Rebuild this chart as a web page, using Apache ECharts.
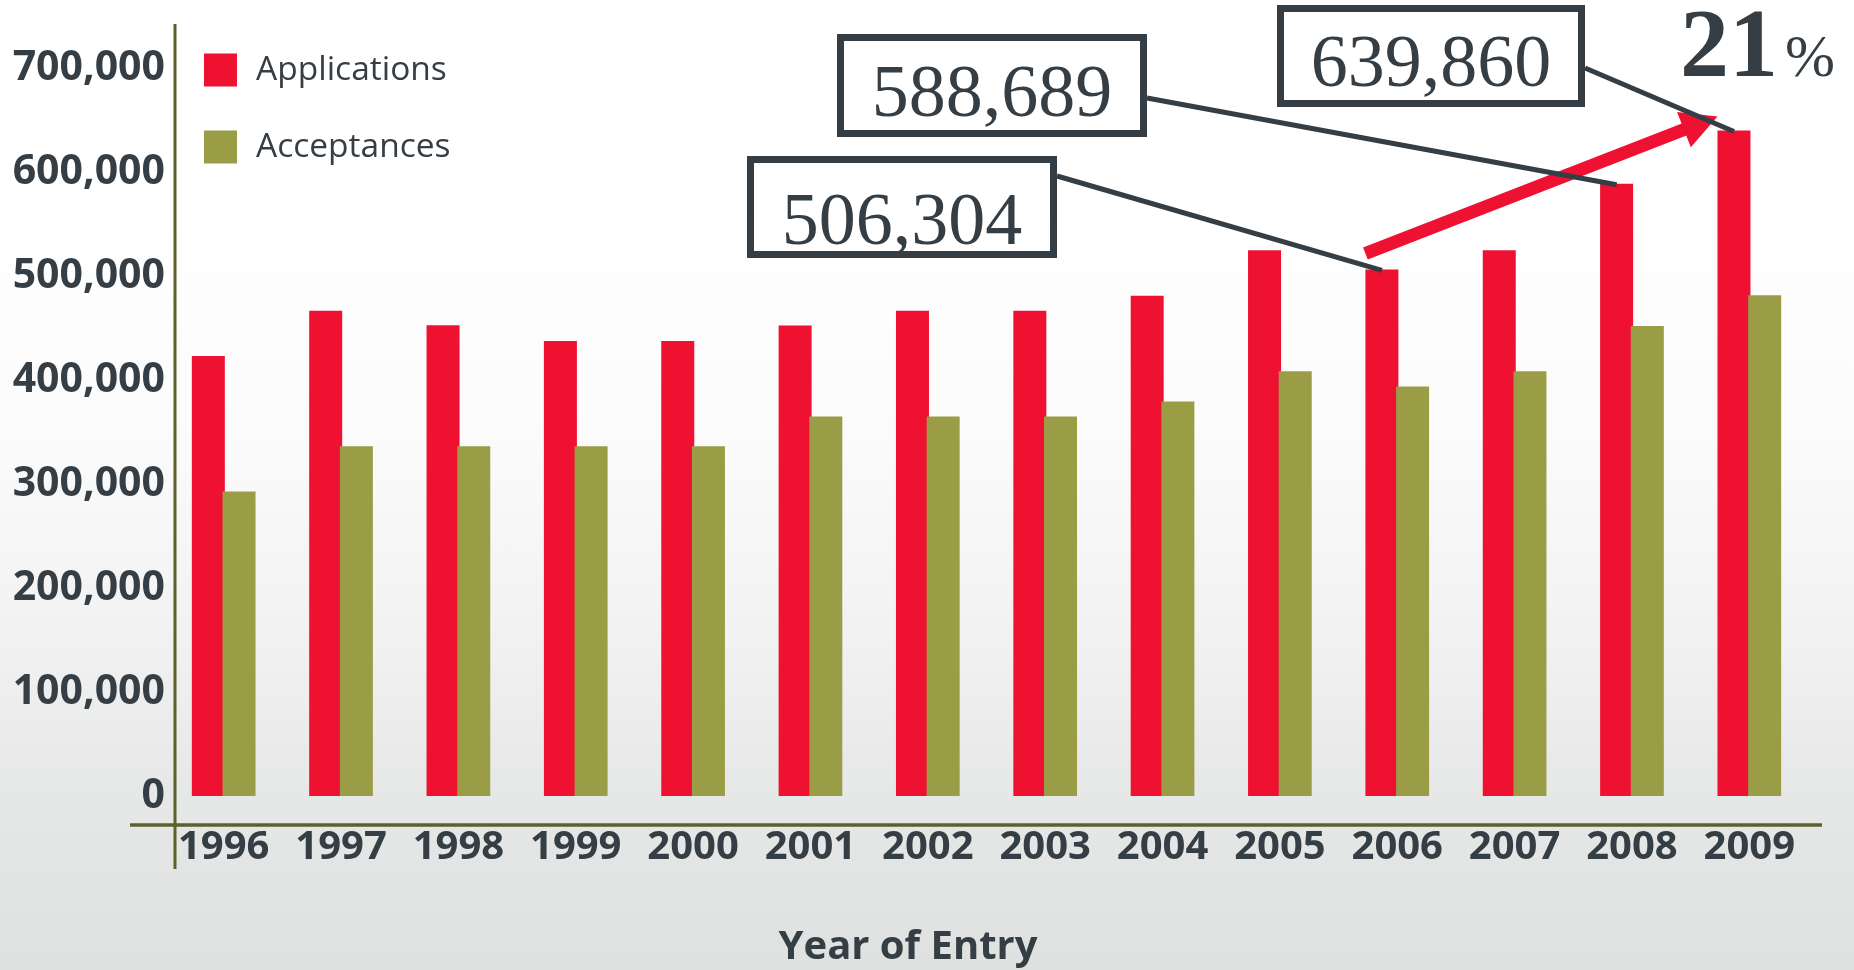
<!DOCTYPE html>
<html>
<head>
<meta charset="utf-8">
<script src="https://cdn.jsdelivr.net/npm/echarts@6/dist/echarts.min.js"></script>
<style>
html,body{margin:0;padding:0;}
#c{width:1854px;height:970px;background:linear-gradient(to bottom,#ffffff 0%,#ffffff 22%,#fbfbfb 45%,#f1f2f1 65%,#e6e8e7 82%,#dfe1e0 100%);}
</style>
</head>
<body>
<div id="c"></div>
<script>
// ---- data ----
const years = ['1996','1997','1998','1999','2000','2001','2002','2003','2004','2005','2006','2007','2008','2009'];
const applications = [423000, 466700, 452700, 437600, 437600, 452300, 466700, 466700, 481100, 524700, 506304, 524700, 588689, 639860];
const acceptances  = [292700, 336400, 336400, 336400, 336400, 365000, 365000, 365000, 379400, 408500, 393800, 408500, 452000, 481400];
const yTicks = [0, 100000, 200000, 300000, 400000, 500000, 600000, 700000];
const seriesNames = ['Applications', 'Acceptances'];
const calloutYears = ['2006', '2008', '2009'];
const growthValue = '21';
const growthUnit = '%';
const xAxisTitle = 'Year of Entry';

// ---- styling ----
const RED = '#ef1131';
const OLIVE = '#9a9d46';
const INK = '#343e44';
const AXIS = '#5b6128';
const BAR_W = 33;
const BAR_GAP = -0.07;

const chart = echarts.init(document.getElementById('c'), null, {renderer: 'canvas'});
const fmt = v => Number(v).toLocaleString('en-US');

chart.setOption({
  animation: false,
  backgroundColor: 'transparent',
  grid: {left: 165, right: 46, top: 68, bottom: 174, containLabel: false},
  legend: {
    data: seriesNames,
    orient: 'vertical',
    left: 199, top: 48,
    icon: 'rect',
    itemWidth: 33, itemHeight: 33, itemGap: 43,
    selectedMode: false,
    textStyle: {fontFamily: 'Open Sans', fontSize: 33.5, color: INK, padding: [0, 0, 0, 14]}
  },
  xAxis: {
    type: 'category',
    data: years,
    axisLine: {show: false},
    axisTick: {show: false},
    axisLabel: {interval: 0, margin: 32, fontFamily: 'Open Sans', fontWeight: 'bold', fontSize: 40, color: INK}
  },
  yAxis: {
    type: 'value',
    min: yTicks[0],
    max: yTicks[yTicks.length - 1],
    interval: yTicks[1] - yTicks[0],
    splitLine: {show: false},
    axisLine: {show: false},
    axisTick: {show: false},
    axisLabel: {margin: 0, formatter: v => fmt(v), fontFamily: 'Open Sans', fontWeight: 'bold', fontSize: 41, color: INK}
  },
  series: [
    {name: seriesNames[0], type: 'bar', data: applications, barWidth: BAR_W, barGap: (BAR_GAP * 100) + '%', itemStyle: {color: RED}},
    {name: seriesNames[1], type: 'bar', data: acceptances, barWidth: BAR_W, itemStyle: {color: OLIVE}}
  ]
});

function barRect(si, i) {
  try {
    const d = chart.getModel().getSeriesByIndex(si).getData();
    const l = d.getItemLayout(i);
    if (l && isFinite(l.x)) {
      const left = Math.min(l.x, l.x + l.width);
      const top = Math.min(l.y, l.y + l.height);
      return {left: left, top: top, width: Math.abs(l.width)};
    }
  } catch (e) {}
  const vals = si === 0 ? applications : acceptances;
  const p = chart.convertToPixel({gridIndex: 0}, [i, vals[i]]);
  const off = (BAR_W + BAR_W * BAR_GAP) / 2;
  const cx = si === 0 ? p[0] - off : p[0] + off;
  return {left: cx - BAR_W / 2, top: p[1], width: BAR_W};
}

const g = [];
// decorative axis lines
g.push({type: 'line', shape: {x1: 175, y1: 24, x2: 175, y2: 869}, style: {stroke: AXIS, lineWidth: 3}, z: 10});
g.push({type: 'line', shape: {x1: 130, y1: 825, x2: 1822, y2: 825}, style: {stroke: AXIS, lineWidth: 3.5}, z: 10});

// growth arrow from 2006 to 2009
const iA = years.indexOf(calloutYears[0]);
const iB = years.indexOf(calloutYears[2]);
const rA = barRect(0, iA), rB = barRect(0, iB);
const sx = rA.left, sy = rA.top - 16;
const tx = rB.left, ty = rB.top - 14;
const L = Math.hypot(tx - sx, ty - sy);
const ux = (tx - sx) / L, uy = (ty - sy) / L;
const nx = -uy, ny = ux;
const headL = 36, headW = 19;
const bx = tx - ux * headL, by = ty - uy * headL;
g.push({type: 'line', shape: {x1: sx, y1: sy, x2: bx + ux * 3, y2: by + uy * 3}, style: {stroke: RED, lineWidth: 13, lineCap: 'butt'}, z: 20});
g.push({type: 'polygon', shape: {points: [[tx, ty], [bx + nx * headW, by + ny * headW], [bx - nx * headW, by - ny * headW]]}, style: {fill: RED}, z: 20});

// callout boxes
const boxes = [
  {year: calloutYears[0], x0: 747, y0: 156, x1: 1057, y1: 258, ly: 176, ty: 225},
  {year: calloutYears[1], x0: 837, y0: 34, x1: 1147, y1: 137, ly: 98, ty: 97},
  {year: calloutYears[2], x0: 1277, y0: 5, x1: 1585, y1: 107, ly: 68, ty: 67}
];
const BW = 7;
boxes.forEach(b => {
  const i = years.indexOf(b.year);
  const r = barRect(0, i);
  g.push({type: 'line', shape: {x1: b.x1, y1: b.ly, x2: r.left + r.width / 2, y2: r.top + 1}, style: {stroke: INK, lineWidth: 5}, z: 30});
  g.push({type: 'rect', shape: {x: b.x0 + BW / 2, y: b.y0 + BW / 2, width: b.x1 - b.x0 - BW, height: b.y1 - b.y0 - BW},
          style: {fill: 'rgba(255,255,255,0)', stroke: INK, lineWidth: BW}, z: 30});
  g.push({type: 'text', x: (b.x0 + b.x1) / 2, y: b.ty, z: 31,
          style: {text: fmt(applications[i]), fontFamily: 'Liberation Serif', fontSize: 74, fill: INK, align: 'center', verticalAlign: 'middle'}});
});

// growth percentage
g.push({type: 'text', x: 1680, y: 51, z: 31, style: {text: growthValue, fontFamily: 'Liberation Serif', fontWeight: 'bold', fontSize: 98, fill: INK, align: 'left', verticalAlign: 'middle'}});
g.push({type: 'text', x: 1785, y: 60, z: 31, style: {text: growthUnit, fontFamily: 'Liberation Serif', fontSize: 60, fill: INK, align: 'left', verticalAlign: 'middle'}});

// x axis title
g.push({type: 'text', x: 908, y: 948, z: 31, style: {text: xAxisTitle, fontFamily: 'Open Sans', fontWeight: 'bold', fontSize: 40, fill: INK, align: 'center', verticalAlign: 'middle'}});

chart.setOption({graphic: {elements: g}});
</script>
</body>
</html>
